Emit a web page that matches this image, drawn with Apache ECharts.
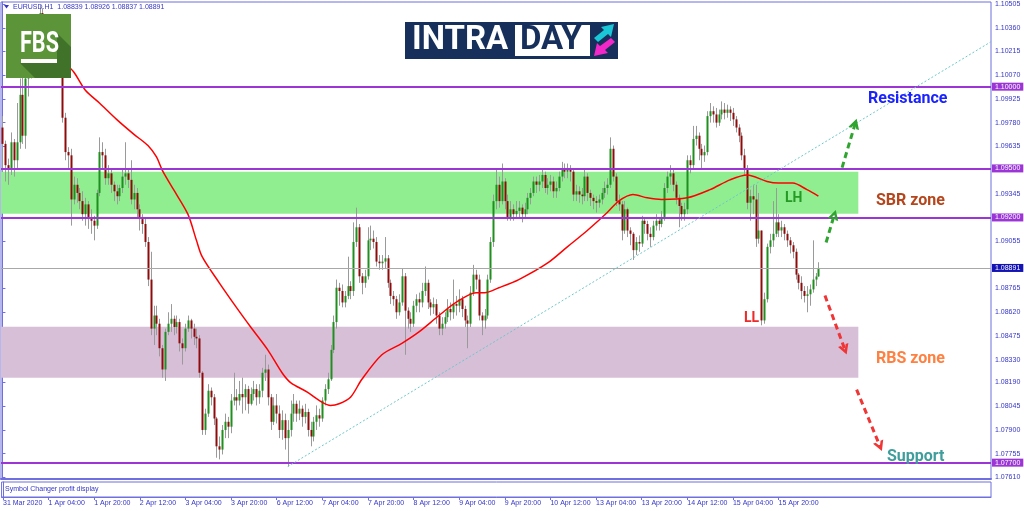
<!DOCTYPE html>
<html>
<head>
<meta charset="utf-8">
<title>EURUSD H1</title>
<script src="https://cdn.jsdelivr.net/npm/echarts@6/dist/echarts.min.js"></script>
<style>
html, body { margin: 0; padding: 0; background: #fff; }
#chart { width: 1024px; height: 511px; }
</style>
</head>
<body>
<div id="chart"></div>
<script>
// hourly bars, index 0 = 31 Mar 2020 12:00; each bar opens at the previous close
const firstOpen = 1.0975;
const closes = [
  1.0965, 1.0952, 1.0950, 1.0966, 1.0955, 1.0966, 1.0995, 1.0970, 1.1005, 1.1012,
  1.1022, 1.1030, 1.1038, 1.1045, 1.1040, 1.1032, 1.1036, 1.1028, 1.1022, 1.1018,
  1.1012, 1.0981, 1.0960, 1.0958, 1.0931, 1.0940, 1.0935, 1.0930, 1.0922, 1.0928,
  1.0920, 1.0918, 1.0915, 1.0935, 1.0960, 1.0958, 1.0944, 1.0947, 1.0940, 1.0936,
  1.0933, 1.0938, 1.0945, 1.0947, 1.0943, 1.0931, 1.0935, 1.0925, 1.0919, 1.0916,
  1.0905, 1.0882, 1.0852, 1.0860, 1.0855, 1.0840, 1.0827, 1.0850, 1.0855, 1.0858,
  1.0853, 1.0856, 1.0843, 1.0840, 1.0852, 1.0857, 1.0852, 1.0847, 1.0846, 1.0825,
  1.0790, 1.0800, 1.0814, 1.0810, 1.0797, 1.0780, 1.0778, 1.0790, 1.0795, 1.0792,
  1.0808, 1.0810, 1.0808, 1.0812, 1.0810, 1.0815, 1.0806, 1.0812, 1.0815, 1.0810,
  1.0814, 1.0825, 1.0827, 1.0810, 1.0795, 1.0805, 1.0800, 1.0790, 1.0796, 1.0785,
  1.0790, 1.0800, 1.0806, 1.0800, 1.0803, 1.0798, 1.0801, 1.0790, 1.0786, 1.0795,
  1.0799, 1.0797, 1.0808, 1.0815, 1.0821, 1.0839, 1.0856, 1.0877, 1.0875, 1.0868,
  1.0872, 1.0878, 1.0875, 1.0905, 1.0914, 1.0884, 1.0880, 1.0884, 1.0906, 1.0907,
  1.0905, 1.0893, 1.0892, 1.0893, 1.0895, 1.0880, 1.0872, 1.0870, 1.0862, 1.0868,
  1.0884, 1.0863, 1.0858, 1.0855, 1.0866, 1.0870, 1.0868, 1.0875, 1.0880, 1.0868,
  1.0865, 1.0867, 1.0860, 1.0852, 1.0855, 1.0859, 1.0864, 1.0862, 1.0867, 1.0866,
  1.0870, 1.0864, 1.0857, 1.0855, 1.0874, 1.0885, 1.0882, 1.0860, 1.0857, 1.0860,
  1.0882, 1.0905, 1.0930, 1.0940, 1.0930, 1.0942, 1.0930, 1.0920, 1.0925, 1.0922,
  1.0924, 1.0926, 1.0922, 1.0925, 1.0932, 1.0935, 1.0942, 1.0940, 1.0942, 1.0946,
  1.0938, 1.0940, 1.0942, 1.0936, 1.0938, 1.0945, 1.0950, 1.0948, 1.0950, 1.0948,
  1.0934, 1.0936, 1.0934, 1.0933, 1.0945, 1.0935, 1.0932, 1.0930, 1.0929, 1.0931,
  1.0935, 1.0938, 1.0940, 1.0962, 1.0945, 1.0930, 1.0928, 1.0912, 1.0925, 1.0912,
  1.0910, 1.0900, 1.0905, 1.0904, 1.0918, 1.0916, 1.0910, 1.0908, 1.0915, 1.0918,
  1.0916, 1.0920, 1.0938, 1.0945, 1.0947, 1.0940, 1.0932, 1.0927, 1.0922, 1.0925,
  1.0955, 1.0952, 1.0968, 1.0970, 1.0962, 1.0958, 1.0960, 1.0982, 1.0985, 1.0983,
  1.0978, 1.0983, 1.0986, 1.0984, 1.0986, 1.0984, 1.0980, 1.0975, 1.0970, 1.0958,
  1.0950, 1.0929, 1.0933, 1.0931, 1.0907, 1.0912, 1.0857, 1.0870, 1.0902, 1.0906,
  1.0910, 1.0917, 1.0912, 1.0914, 1.0910, 1.0906, 1.0903, 1.0899, 1.0885, 1.0880,
  1.0875, 1.0872, 1.0873, 1.0876, 1.0882, 1.08839, 1.08891
];
const highs = [
  1.0982, 1.0967, 1.0956, 1.0972, 1.0968, 1.0990, 1.1005, 1.1008, 1.1015, 1.1020,
  1.1028, 1.1035, 1.1042, 1.1050, 1.1048, 1.1043, 1.1040, 1.1038, 1.1030, 1.1025,
  1.1020, 1.1015, 1.0984, 1.0963, 1.0962, 1.0945, 1.0944, 1.0938, 1.0936, 1.0932,
  1.0930, 1.0925, 1.0921, 1.0937, 1.0969, 1.0966, 1.0962, 1.0952, 1.0950, 1.0942,
  1.0940, 1.0940, 1.0950, 1.0966, 1.0950, 1.0955, 1.0940, 1.0938, 1.0928, 1.0922,
  1.0920, 1.0908, 1.0899, 1.0866, 1.0866, 1.0858, 1.0842, 1.0852, 1.0862, 1.0867,
  1.0860, 1.0860, 1.0858, 1.0846, 1.0855, 1.0860, 1.0858, 1.0855, 1.0852, 1.0848,
  1.0826, 1.0803, 1.0818, 1.0816, 1.0812, 1.0798, 1.0786, 1.0793, 1.0800, 1.0798,
  1.0812, 1.0825, 1.0815, 1.0820, 1.0822, 1.0818, 1.0817, 1.0816, 1.0820, 1.0818,
  1.0818, 1.0828, 1.0836, 1.0830, 1.0812, 1.0810, 1.0812, 1.0805, 1.0802, 1.0800,
  1.0796, 1.0808, 1.0812, 1.0808, 1.0808, 1.0805, 1.0806, 1.0803, 1.0795, 1.0798,
  1.0805, 1.0803, 1.0810, 1.0818, 1.0825, 1.0842, 1.0860, 1.0882, 1.0880, 1.0879,
  1.0875, 1.0896, 1.0881, 1.0917, 1.0926, 1.0916, 1.0886, 1.0888, 1.0914, 1.0915,
  1.0912, 1.0908, 1.0897, 1.0897, 1.0908, 1.0897, 1.0882, 1.0875, 1.0872, 1.0873,
  1.0889, 1.0886, 1.0865, 1.0862, 1.0869, 1.0873, 1.0874, 1.0880, 1.0890, 1.0882,
  1.0870, 1.0871, 1.0870, 1.0862, 1.0859, 1.0862, 1.0870, 1.0868, 1.0882, 1.0872,
  1.0876, 1.0872, 1.0866, 1.0860, 1.0878, 1.0891, 1.0888, 1.0885, 1.0862, 1.0864,
  1.0885, 1.0908, 1.0934, 1.0949, 1.0945, 1.0953, 1.0944, 1.0934, 1.0930, 1.0928,
  1.0930, 1.0930, 1.0928, 1.0929, 1.0935, 1.0938, 1.0945, 1.0945, 1.0946, 1.0950,
  1.0948, 1.0944, 1.0946, 1.0945, 1.0942, 1.0948, 1.0954, 1.0953, 1.0953, 1.0952,
  1.0950, 1.0940, 1.0939, 1.0938, 1.0950, 1.0947, 1.0937, 1.0934, 1.0933, 1.0934,
  1.0938, 1.0942, 1.0944, 1.0969, 1.0964, 1.0947, 1.0934, 1.0930, 1.0930, 1.0926,
  1.0914, 1.0911, 1.0908, 1.0909, 1.0921, 1.0920, 1.0918, 1.0914, 1.0918, 1.0922,
  1.0920, 1.0924, 1.0941, 1.0948, 1.0952, 1.0950, 1.0942, 1.0934, 1.0929, 1.0929,
  1.0958, 1.0958, 1.0976, 1.0976, 1.0972, 1.0965, 1.0964, 1.0985, 1.0990, 1.0988,
  1.0987, 1.0986, 1.0991, 1.0990, 1.0989, 1.0988, 1.0987, 1.0982, 1.0977, 1.0972,
  1.0962, 1.0952, 1.0937, 1.0940, 1.0940, 1.0935, 1.0912, 1.0874, 1.0904, 1.0910,
  1.0930, 1.0938, 1.0922, 1.0918, 1.0916, 1.0912, 1.0908, 1.0905, 1.0901, 1.0886,
  1.0884, 1.0878, 1.0878, 1.0879, 1.0906, 1.0886, 1.08926
];
const lows = [
  1.0948, 1.0942, 1.0940, 1.0946, 1.0945, 1.0950, 1.0962, 1.0965, 1.0962, 1.0994,
  1.1005, 1.1018, 1.1026, 1.1034, 1.1035, 1.1028, 1.1027, 1.1022, 1.1016, 1.1010,
  1.1008, 1.0978, 1.0955, 1.0950, 1.0915, 1.0928, 1.0929, 1.0925, 1.0918, 1.0915,
  1.0913, 1.0910, 1.0906, 1.0913, 1.0933, 1.0950, 1.0940, 1.0940, 1.0935, 1.0930,
  1.0928, 1.0930, 1.0935, 1.0940, 1.0938, 1.0928, 1.0925, 1.0920, 1.0912, 1.0910,
  1.0902, 1.0878, 1.0848, 1.0842, 1.0848, 1.0835, 1.0822, 1.0820, 1.0848, 1.0850,
  1.0848, 1.0849, 1.0838, 1.0830, 1.0838, 1.0850, 1.0846, 1.0842, 1.0840, 1.0822,
  1.0787, 1.0787, 1.0798, 1.0805, 1.0793, 1.0773, 1.0772, 1.0775, 1.0785, 1.0785,
  1.0788, 1.0805, 1.0802, 1.0805, 1.0800, 1.0802, 1.0800, 1.0805, 1.0808, 1.0805,
  1.0806, 1.0810, 1.0820, 1.0805, 1.0790, 1.0793, 1.0794, 1.0785, 1.0784, 1.0778,
  1.07676, 1.0786, 1.0795, 1.0795, 1.0796, 1.0792, 1.0794, 1.0786, 1.0780, 1.0783,
  1.0790, 1.0792, 1.0795, 1.0805, 1.0812, 1.0820, 1.0837, 1.0852, 1.0866, 1.0865,
  1.0865, 1.0870, 1.0870, 1.0872, 1.0902, 1.0880, 1.0873, 1.0877, 1.0882, 1.0900,
  1.0901, 1.0890, 1.0888, 1.0888, 1.0889, 1.0877, 1.0867, 1.0866, 1.0858, 1.0860,
  1.0866, 1.0836, 1.0852, 1.0850, 1.0853, 1.0862, 1.0862, 1.0865, 1.0872, 1.0864,
  1.0860, 1.0861, 1.0855, 1.0848, 1.0848, 1.0852, 1.0856, 1.0857, 1.0858, 1.0860,
  1.0862, 1.0859, 1.0853, 1.0840, 1.0853, 1.0872, 1.0876, 1.0857, 1.0848, 1.0852,
  1.0858, 1.0880, 1.0902, 1.0925, 1.0926, 1.0928, 1.0925, 1.0918, 1.0918, 1.0918,
  1.0919, 1.0920, 1.0917, 1.0919, 1.0922, 1.0928, 1.0933, 1.0935, 1.0936, 1.0938,
  1.0935, 1.0934, 1.0936, 1.0932, 1.0932, 1.0936, 1.0942, 1.0944, 1.0944, 1.0942,
  1.0930, 1.0930, 1.0929, 1.0928, 1.0930, 1.0930, 1.0927, 1.0925, 1.0923, 1.0926,
  1.0928, 1.0932, 1.0934, 1.0938, 1.0942, 1.0927, 1.0924, 1.0906, 1.0910, 1.0908,
  1.0903, 1.0894, 1.0897, 1.0899, 1.0902, 1.0910, 1.0906, 1.0902, 1.0906, 1.0912,
  1.0912, 1.0914, 1.0918, 1.0935, 1.0940, 1.0936, 1.0928, 1.0914, 1.0918, 1.0918,
  1.0922, 1.0947, 1.0950, 1.0964, 1.0955, 1.0950, 1.0954, 1.0958, 1.0978, 1.0978,
  1.0975, 1.0976, 1.0980, 1.0980, 1.0981, 1.0979, 1.0976, 1.0972, 1.0966, 1.0955,
  1.0946, 1.0925, 1.0918, 1.0922, 1.0902, 1.0904, 1.0854, 1.0855, 1.0868, 1.0898,
  1.0902, 1.0908, 1.0908, 1.0908, 1.0906, 1.0902, 1.0898, 1.0895, 1.0882, 1.0876,
  1.0870, 1.0868, 1.0862, 1.0866, 1.0874, 1.0878, 1.08837
];

// moving average: bar index / value
const maBars = [22, 25, 29, 34, 40, 46, 51, 54, 56, 60, 65, 68, 70, 76, 82, 87, 93, 98, 101, 107,
  112, 115, 118, 122, 126, 133, 140, 146, 153, 159, 166, 169, 174, 181, 191, 198, 205, 212, 216, 221,
  226, 231, 240, 248, 255, 261, 268, 272, 277, 282, 286];
const maValues = [1.1014, 1.1009, 1.0998, 1.0990, 1.0980, 1.0971, 1.0964, 1.0957, 1.0949, 1.0937,
  1.0922, 1.0906, 1.0896, 1.0880, 1.0865, 1.0853, 1.0839, 1.0825, 1.0819, 1.0813,
  1.0807, 1.0805, 1.0806, 1.0810, 1.0821, 1.0836, 1.0843, 1.0850, 1.0860, 1.0868,
  1.0874, 1.0874, 1.0877, 1.0882, 1.0892, 1.0902, 1.0912, 1.0923, 1.0930, 1.0934,
  1.0932, 1.0931, 1.0932, 1.0937, 1.0943, 1.0946, 1.0942, 1.0941, 1.0941, 1.0937, 1.0933];

const timeTickBars = [0, 16, 32, 48, 64, 80, 96, 112, 128, 144, 160, 176, 192, 208, 224, 240, 256, 272];
const timeLabels = ['31 Mar 2020', '1 Apr 04:00', '1 Apr 20:00', '2 Apr 12:00', '3 Apr 04:00', '3 Apr 20:00',
  '6 Apr 12:00', '7 Apr 04:00', '7 Apr 20:00', '8 Apr 12:00', '9 Apr 04:00', '9 Apr 20:00',
  '10 Apr 12:00', '13 Apr 04:00', '13 Apr 20:00', '14 Apr 12:00', '15 Apr 04:00', '15 Apr 20:00'];
const priceTicks = [1.07610, 1.07755, 1.07900, 1.08045, 1.08190, 1.08330, 1.08475, 1.08620, 1.08765,
  1.09055, 1.09345, 1.09635, 1.09780, 1.09925, 1.10070, 1.10215, 1.10360, 1.10505];

const levels = [1.10000, 1.09500, 1.09200, 1.07700];
const lastPrice = 1.08891;
const sbrZone = [1.09480, 1.09223];
const rbsZone = [1.08532, 1.08220];

const FRAME = '#6f6fe0';
const TXT = '#3535c8';
const LEVEL = '#9b35d6';
const FONT = 'Liberation Sans';
const CHEVRON = 'path://M0,10L5,0L10,10L7.4,10L5,5.2L2.6,10Z';

const candles = closes.map((c, i) => {
  const o = i === 0 ? firstOpen : closes[i - 1];
  return [i, o, c, Math.min(lows[i], o, c), Math.max(highs[i], o, c)];
});

function renderCandle(params, api) {
  const i = api.value(0);
  const o = api.value(1);
  const c = api.value(2);
  const top = api.coord([i, Math.max(o, c)]);
  const bot = api.coord([i, Math.min(o, c)]);
  const hi = api.coord([i, api.value(4)]);
  const lo = api.coord([i, api.value(3)]);
  const x = Math.round(top[0]);
  return {
    type: 'group',
    children: [
      { type: 'line', shape: { x1: x + 0.5, y1: hi[1], x2: x + 0.5, y2: lo[1] }, style: { stroke: '#9a9a9a', lineWidth: 1 } },
      { type: 'rect', shape: { x: x - 0.5, y: top[1], width: 2, height: Math.max(1, bot[1] - top[1]) },
        style: { fill: c >= o ? '#1f8f1f' : '#8e0b0b' } }
    ]
  };
}

function arrow(from, to, color) {
  return [
    { coord: from, symbol: 'none', label: { show: false }, lineStyle: { color: color, width: 3, type: [6, 4] } },
    { coord: to, symbol: CHEVRON, symbolSize: [11, 10], itemStyle: { color: color } }
  ];
}

function priceBox(value, lineColor, lineWidth, boxColor) {
  return {
    yAxis: value,
    lineStyle: { color: lineColor, width: lineWidth, type: 'solid' },
    label: { show: true, position: 'end', distance: 1, formatter: value.toFixed(5),
      color: '#fff', backgroundColor: boxColor, fontSize: 7, fontFamily: FONT, padding: [1, 3, 0, 3] }
  };
}

function note(text, x, y, color, size) {
  return { type: 'text', x: x, y: y, z: 100,
    style: { text: text, fill: color, font: 'bold ' + size + 'px Roboto', textVerticalAlign: 'middle' } };
}

const chart = echarts.init(document.getElementById('chart'));
chart.setOption({
  animation: false,
  textStyle: { fontFamily: FONT },
  grid: [
    { left: 1, right: 33, top: 2, height: 477, show: true, borderColor: FRAME, borderWidth: 1 },
    { left: 1, right: 33, top: 482, height: 15, show: true, borderColor: FRAME, borderWidth: 1 }
  ],
  xAxis: [
    { gridIndex: 0, type: 'value', min: -0.5, max: 346.5,
      axisLine: { show: true, onZero: false, lineStyle: { color: FRAME, width: 2 } },
      axisTick: { show: false }, axisLabel: { show: false }, splitLine: { show: false } },
    { gridIndex: 1, type: 'value', min: -0.5, max: 346.5,
      axisLine: { show: true, onZero: false, lineStyle: { color: FRAME } },
      axisTick: { show: true, customValues: timeTickBars, length: 3, lineStyle: { color: FRAME } },
      axisLabel: { customValues: timeTickBars, formatter: v => timeLabels[timeTickBars.indexOf(v)],
        align: 'left', margin: 3, fontSize: 7, color: TXT, fontFamily: FONT },
      splitLine: { show: false } }
  ],
  yAxis: [
    { gridIndex: 0, type: 'value', position: 'right', min: 1.07600, max: 1.10518,
      axisLine: { show: true, lineStyle: { color: FRAME } },
      axisTick: { show: true, customValues: priceTicks, length: 3, lineStyle: { color: FRAME } },
      axisLabel: { customValues: priceTicks, formatter: v => v.toFixed(5), fontSize: 7, color: TXT,
        fontFamily: FONT, margin: 4 },
      splitLine: { show: false } },
    { gridIndex: 1, type: 'value', position: 'right', min: 0, max: 1,
      axisLine: { show: true, lineStyle: { color: FRAME } },
      axisTick: { show: false }, axisLabel: { show: false }, splitLine: { show: false } }
  ],
  series: [
    { name: 'zones', type: 'line', data: [], z: 1, silent: true,
      markArea: {
        silent: true, precision: 5,
        data: [
          [{ xAxis: -0.5, yAxis: sbrZone[0], itemStyle: { color: '#90ee90', opacity: 1 } }, { xAxis: 300, yAxis: sbrZone[1] }],
          [{ xAxis: -0.5, yAxis: rbsZone[0], itemStyle: { color: '#d8bfd8', opacity: 1 } }, { xAxis: 300, yAxis: rbsZone[1] }]
        ]
      } },
    { name: 'EURUSD.H1', type: 'custom', renderItem: renderCandle, data: candles,
      encode: { x: 0, y: [1, 2, 3, 4] }, z: 3, silent: true, clip: true },
    { name: 'MA', type: 'line', data: maBars.map((b, k) => [b, maValues[k]]), smooth: 0.3,
      showSymbol: false, z: 4, silent: true, clip: true,
      lineStyle: { color: '#ff0000', width: 1.5 },
      markLine: {
        silent: true, precision: 5, symbol: ['none', 'none'], animation: false,
        data: [
          ...levels.map(v => priceBox(v, LEVEL, 2, LEVEL)),
          priceBox(lastPrice, '#a8a8a8', 1, '#1414b4'),
          [{ coord: [100, 1.07676], label: { show: false }, lineStyle: { color: '#6cc8c8', width: 1, type: [2, 2] } },
            { coord: [346.5, 1.10275] }],
          arrow([294.3, 1.09505], [298.9, 1.09774], '#2fa52f'),
          arrow([288.7, 1.09047], [291.6, 1.09217], '#2fa52f'),
          arrow([288.3, 1.08722], [295.3, 1.08391], '#f03535'),
          arrow([299.4, 1.08147], [307.6, 1.07800], '#f03535')
        ]
      } }
  ],
  graphic: [
    // FBS badge
    { type: 'rect', z: 100, shape: { x: 6, y: 14, width: 65, height: 64 }, style: { fill: '#5b9439' } },
    { type: 'polygon', z: 100, shape: { points: [[57, 33], [71, 47], [71, 78], [35, 78], [20, 63], [57, 63]] }, style: { fill: '#41722a' } },
    { type: 'text', z: 101, x: 20, y: 44, scaleX: 0.72,
      style: { text: 'FBS', fill: '#fff', font: 'bold 30px Roboto', textVerticalAlign: 'middle' } },
    { type: 'rect', z: 101, shape: { x: 21, y: 59, width: 36, height: 4 }, style: { fill: '#fff' } },
    // INTRADAY badge
    { type: 'rect', z: 100, shape: { x: 405, y: 22, width: 213, height: 37 }, style: { fill: '#162f5b' } },
    { type: 'text', z: 101, x: 412, y: 41, style: { text: 'INTRA', fill: '#fff', font: 'bold 33px Roboto', textVerticalAlign: 'middle' } },
    { type: 'rect', z: 101, shape: { x: 515, y: 25, width: 75, height: 31 }, style: { fill: '#fff' } },
    { type: 'text', z: 102, x: 520, y: 41, style: { text: 'DAY', fill: '#162f5b', font: 'bold 33px Roboto', textVerticalAlign: 'middle' } },
    { type: 'polygon', z: 101, shape: { points: [[594, 38], [604, 30], [601, 27], [614, 24], [611, 37], [608, 34], [598, 42]] }, style: { fill: '#19c7d6' } },
    { type: 'polygon', z: 101, shape: { points: [[615, 42], [605, 50], [608, 53], [594, 56], [597, 43], [600, 46], [611, 38]] }, style: { fill: '#f227c8' } },
    // header and sub-window caption
    { type: 'polygon', z: 100, shape: { points: [[4, 5], [9, 5], [6.5, 8.5]] }, style: { fill: TXT } },
    { type: 'text', z: 100, x: 13, y: 7, style: { text: 'EURUSD.H1  1.08839 1.08926 1.08837 1.08891', fill: TXT, font: '7px "Liberation Sans"', textVerticalAlign: 'middle' } },
    { type: 'text', z: 100, x: 5, y: 489, style: { text: 'Symbol Changer profit display', fill: TXT, font: '7px "Liberation Sans"', textVerticalAlign: 'middle' } },
    // annotations
    note('Resistance', 868, 99, '#1a22ff', 16),
    note('SBR zone', 876, 201, '#b5461c', 16),
    note('RBS zone', 876, 359, '#ff8040', 16),
    note('Support', 887, 457, '#3f9d9c', 16),
    note('LH', 785, 198, '#259b25', 14),
    note('LL', 744, 318, '#ee2a2a', 14)
  ]
});
</script>
</body>
</html>
